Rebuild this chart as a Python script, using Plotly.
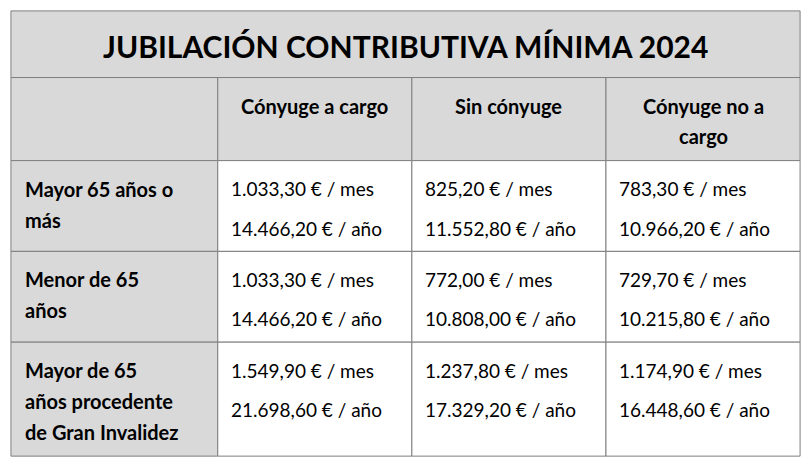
import plotly.graph_objects as go

title = "JUBILACIÓN CONTRIBUTIVA MÍNIMA 2024"
columns = ["Cónyuge a cargo", "Sin cónyuge", "Cónyuge no a|cargo"]
rows = ["Mayor 65 años o|más", "Menor de 65|años", "Mayor de 65|años procedente|de Gran Invalidez"]
mes = [["1.033,30", "825,20", "783,30"],
       ["1.033,30", "772,00", "729,70"],
       ["1.549,90", "1.237,80", "1.174,90"]]
anio = [["14.466,20", "11.552,80", "10.966,20"],
        ["14.466,20", "10.808,00", "10.215,80"],
        ["21.698,60", "17.329,20", "16.448,60"]]

xs = [3, 214, 412, 610, 808]
ys = [3, 72, 158, 252, 346, 464]
gray = "#d9d9d9"
font = "Lato"
line = dict(color="#7f7f7f", width=1)

fig = go.Figure()
shapes, ann = [], []

def rect(x0, x1, y0, y1, fill):
    shapes.append(dict(type="rect", x0=x0, x1=x1, y0=y0, y1=y1, fillcolor=fill, line=line, layer="below"))

def txt(x, y, t, size, bold=False, anchor="left"):
    ann.append(dict(x=x, y=y, text=f"<b>{t}</b>" if bold else t, showarrow=False, xanchor=anchor,
                    yanchor="middle", font=dict(family=font, size=size, color="black")))

rect(xs[0], xs[4], ys[0], ys[1], gray)
txt((xs[0] + xs[4]) / 2, 39, title, 30, True, "center")

rect(xs[0], xs[1], ys[1], ys[2], gray)
for j, c in enumerate(columns):
    rect(xs[j + 1], xs[j + 2], ys[1], ys[2], gray)
    for k, part in enumerate(c.split("|")):
        txt((xs[j + 1] + xs[j + 2]) / 2, 101 + 32 * k, part, 20, True, "center")

for i, r in enumerate(rows):
    top = ys[i + 2]
    rect(xs[0], xs[1], top, ys[i + 3], gray)
    for k, part in enumerate(r.split("|")):
        txt(15, top + 29 + 32 * k, part, 20, True)
    for j in range(3):
        rect(xs[j + 1], xs[j + 2], top, ys[i + 3], "white")
        txt(xs[j + 1] + 11, top + 29, f"{mes[i][j]} € / mes", 19)
        txt(xs[j + 1] + 11, top + 70, f"{anio[i][j]} € / año", 19)

# page body has an 8px margin, so shrink the figure to fit the window
fig.update_layout(width=796, height=452, margin=dict(l=0, r=0, t=0, b=0),
                  plot_bgcolor="white", paper_bgcolor="white", shapes=shapes, annotations=ann,
                  xaxis=dict(range=[0, 812], visible=False, fixedrange=True),
                  yaxis=dict(range=[468, 0], visible=False, fixedrange=True))
fig.write_html("out.html")
